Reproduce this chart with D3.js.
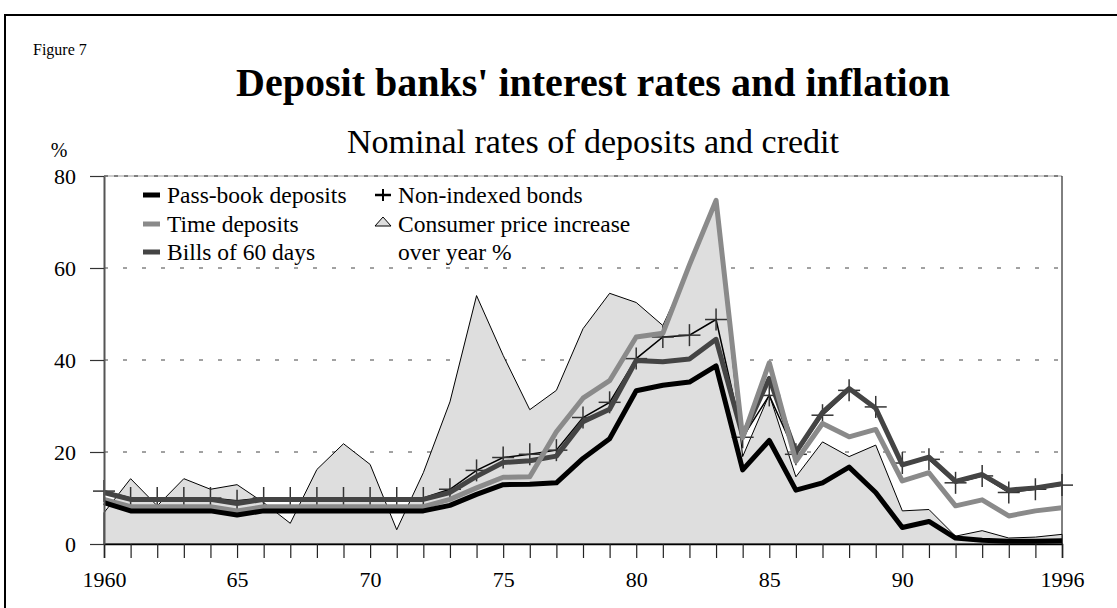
<!DOCTYPE html>
<html>
<head>
<meta charset="utf-8">
<script src="https://cdn.jsdelivr.net/npm/d3@7"></script>
<style>
  body { margin: 0; background: #fff; }
  svg text { font-family: "Liberation Serif", "Times New Roman", serif; fill: #000; }
</style>
</head>
<body>
<div id="container"></div>
<script>
// years 1960..1996
const years = d3.range(1960, 1997);

const passBook = [9.0, 7.2, 7.2, 7.2, 7.2, 6.3, 7.2, 7.2, 7.2, 7.2, 7.2, 7.2, 7.2, 8.4, 10.8, 12.9, 13.0, 13.3, 18.6, 22.9,
  33.3, 34.5, 35.2, 38.7, 16.1, 22.5, 11.7, 13.3, 16.7, 11.2, 3.6, 4.9, 1.3, 0.8, 0.6, 0.6, 0.7];
const timeDeposits = [9.7, 8.1, 8.1, 8.1, 8.1, 7.2, 8.1, 8.1, 8.1, 8.1, 8.1, 8.1, 8.1, 9.7, 12.2, 14.5, 14.6, 24.4, 31.7, 35.5,
  45.0, 45.8, 60.7, 74.7, 23.1, 39.4, 18.0, 26.2, 23.3, 24.9, 13.7, 15.5, 8.3, 9.6, 6.1, 7.2, 7.9];
const bills60 = [11.2, 9.7, 9.7, 9.7, 9.7, 8.8, 9.7, 9.7, 9.7, 9.7, 9.7, 9.7, 9.7, 11.2, 14.7, 17.7, 18.1, 19.1, 26.6, 29.3,
  39.9, 39.6, 40.2, 44.5, 23.5, 36.0, 19.9, 28.6, 33.8, 29.5, 17.2, 18.9, 13.6, 15.1, 11.7, 12.2, 13.1];
const bonds = [11.5, 10.0, 10.0, 10.0, 10.0, 9.4, 10.0, 10.0, 10.0, 10.0, 10.0, 10.0, 10.0, 11.9, 16.0, 18.8, 19.5, 20.4, 27.5, 30.8,
  40.3, 45.0, 45.4, 48.8, 23.2, 32.3, 19.5, 28.0, 33.4, 29.8, 17.6, 18.4, 13.3, 14.8, 11.2, 11.9, 12.8];
const cpi = [6.8, 14.2, 8.3, 14.2, 11.9, 12.9, 9.0, 4.5, 16.2, 21.8, 17.3, 3.1, 15.5, 30.9, 54.0, 41.0, 29.2, 33.4, 46.8, 54.5,
  52.5, 47.5, 60.0, 74.0, 19.0, 32.5, 14.6, 22.2, 19.0, 21.5, 7.2, 7.5, 1.7, 2.9, 1.3, 1.5, 2.1];

const yTicks = [0, 20, 40, 60, 80];
const xLabels = { 1960: "1960", 1965: "65", 1970: "70", 1975: "75", 1980: "80", 1985: "85", 1990: "90", 1996: "1996" };

const W = 1117, H = 608;
const svg = d3.select("#container").append("svg")
  .attr("width", W).attr("height", H);

// outer frame
svg.append("rect")
  .attr("x", 5).attr("y", 15).attr("width", 1130).attr("height", 620)
  .attr("fill", "none").attr("stroke", "#000").attr("stroke-width", 2);

svg.append("text").attr("x", 33).attr("y", 55).style("font-size", "16px").text("Figure 7");
svg.append("text").attr("x", 593).attr("y", 96).attr("text-anchor", "middle")
  .style("font-size", "40px").style("font-weight", "bold")
  .text("Deposit banks' interest rates and inflation");
svg.append("text").attr("x", 593).attr("y", 153).attr("text-anchor", "middle")
  .style("font-size", "34px").text("Nominal rates of deposits and credit");
svg.append("text").attr("x", 59).attr("y", 157).attr("text-anchor", "middle")
  .style("font-size", "20px").text("%");

const x = d3.scaleLinear().domain([1960, 1996]).range([104, 1062]);
const y = d3.scaleLinear().domain([0, 80]).range([544, 176]);

// gridlines (behind the CPI area)
svg.append("g").selectAll("line")
  .data([20, 40, 60])
  .enter().append("line")
  .attr("x1", x(1960)).attr("x2", x(1996))
  .attr("y1", d => y(d)).attr("y2", d => y(d))
  .attr("stroke", "#444").attr("stroke-width", 1)
  .attr("stroke-dasharray", "4,15");

// top border of plot
svg.append("line")
  .attr("x1", x(1960)).attr("x2", x(1996)).attr("y1", y(80)).attr("y2", y(80))
  .attr("stroke", "#999").attr("stroke-width", 1);
svg.append("line")
  .attr("x1", x(1960)).attr("x2", x(1996)).attr("y1", y(80)).attr("y2", y(80))
  .attr("stroke", "#333").attr("stroke-width", 1).attr("stroke-dasharray", "4,6");

// right border
svg.append("line")
  .attr("x1", x(1996)).attr("x2", x(1996)).attr("y1", y(80)).attr("y2", y(0))
  .attr("stroke", "#000").attr("stroke-width", 1);

// CPI area
const area = d3.area()
  .x((d, i) => x(years[i]))
  .y0(y(0))
  .y1(d => y(d));
svg.append("path")
  .datum(cpi)
  .attr("d", area)
  .attr("fill", "#dedede")
  .attr("stroke", "#000")
  .attr("stroke-width", 1)
  .attr("stroke-linejoin", "miter");

const line = d3.line().x((d, i) => x(years[i])).y(d => y(d));

// non-indexed bonds
svg.append("path")
  .datum(bonds)
  .attr("d", line)
  .attr("fill", "none").attr("stroke", "#000").attr("stroke-width", 1.5);

const mk = svg.append("g").selectAll("g")
  .data(bonds)
  .enter().append("g")
  .attr("transform", (d, i) => `translate(${x(years[i])},${y(d)})`);
mk.append("line").attr("x1", -11).attr("x2", 11).attr("y1", 0).attr("y2", 0)
  .attr("stroke", "#333").attr("stroke-width", 1.5);
mk.append("line").attr("x1", 0).attr("x2", 0).attr("y1", -11).attr("y2", 11)
  .attr("stroke", "#333").attr("stroke-width", 1.5);

const thick = [
  { values: bills60, color: "#444" },
  { values: timeDeposits, color: "#8a8a8a" },
  { values: passBook, color: "#000" }
];
thick.forEach(s => {
  svg.append("path")
    .datum(s.values)
    .attr("d", line)
    .attr("fill", "none")
    .attr("stroke", s.color)
    .attr("stroke-width", 5)
    .attr("stroke-linejoin", "round");
});

// axes
const xAxis = svg.append("g")
  .attr("transform", `translate(0,${y(0)})`)
  .call(d3.axisBottom(x).tickValues(years).tickSize(14).tickPadding(13)
    .tickFormat(d => xLabels[d] || ""));
xAxis.select(".domain").attr("stroke", "#000").attr("stroke-width", 1.5);
xAxis.selectAll(".tick line").attr("stroke", "#222").attr("stroke-width", 1.2);
xAxis.selectAll("text").style("font-size", "22px").attr("fill", "#000");

const yAxis = svg.append("g")
  .attr("transform", `translate(${x(1960)},0)`)
  .call(d3.axisLeft(y).tickValues(yTicks).tickSize(14).tickPadding(14).tickSizeOuter(0));
yAxis.select(".domain").attr("stroke", "#555").attr("stroke-width", 2);
yAxis.selectAll(".tick line").attr("stroke", "#333").attr("stroke-width", 1.2);
yAxis.selectAll("text").style("font-size", "22px").attr("fill", "#000");

// legend
const rows = [203, 232, 260];
const leg = svg.append("g");
const col1 = [
  { label: "Pass-book deposits", color: "#000" },
  { label: "Time deposits", color: "#8a8a8a" },
  { label: "Bills of 60 days", color: "#444" }
];
col1.forEach((d, i) => {
  leg.append("rect").attr("x", 143).attr("y", rows[i] - 10.5).attr("width", 17).attr("height", 5)
    .attr("fill", d.color);
  leg.append("text").attr("x", 167).attr("y", rows[i]).style("font-size", "23.5px").text(d.label);
});
leg.append("line").attr("x1", 375).attr("x2", 391).attr("y1", rows[0] - 8).attr("y2", rows[0] - 8)
  .attr("stroke", "#000").attr("stroke-width", 2.5);
leg.append("line").attr("x1", 383).attr("x2", 383).attr("y1", rows[0] - 14).attr("y2", rows[0] - 2)
  .attr("stroke", "#000").attr("stroke-width", 2);
leg.append("text").attr("x", 398).attr("y", rows[0]).style("font-size", "23.5px").text("Non-indexed bonds");
leg.append("path")
  .attr("d", `M375,${rows[1] - 6}L391,${rows[1] - 6}L383,${rows[1] - 15}Z`)
  .attr("fill", "#dedede").attr("stroke", "#000").attr("stroke-width", 1);
leg.append("text").attr("x", 398).attr("y", rows[1]).style("font-size", "23.5px").text("Consumer price increase");
leg.append("text").attr("x", 398).attr("y", rows[2]).style("font-size", "23.5px").text("over year %");
</script>
</body>
</html>
